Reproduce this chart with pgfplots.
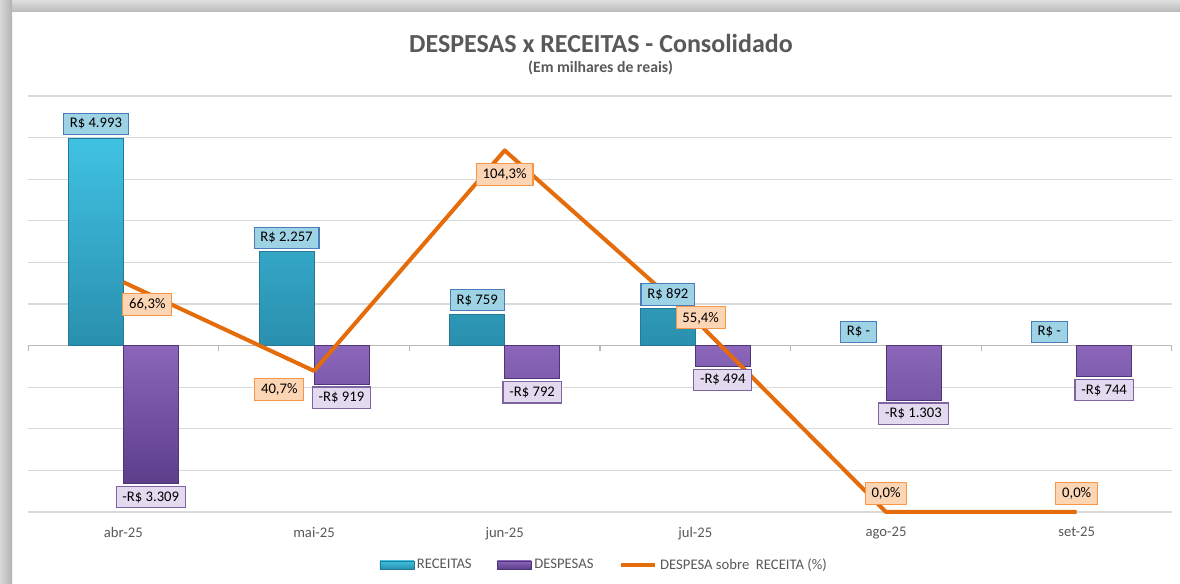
\documentclass[border=0pt]{standalone}
\usepackage{fontspec}
\setmainfont{Carlito}
\usepackage{pgfplots}
\pgfplotsset{compat=1.18}
\usepackage{pgfplotstable}

\definecolor{recTop}{HTML}{40C2E3}
\definecolor{recBot}{HTML}{2A8FAE}
\definecolor{desTop}{HTML}{8B66BA}
\definecolor{desBot}{HTML}{5C3E8B}
\definecolor{recBox}{HTML}{9DD3E4}
\definecolor{recEdge}{HTML}{4A7EBB}
\definecolor{desBox}{HTML}{E4DAF0}
\definecolor{desEdge}{HTML}{8064A2}
\definecolor{pctBox}{HTML}{FCD5B4}
\definecolor{pctEdge}{HTML}{F79646}
\definecolor{lineOr}{HTML}{E46C0A}
\definecolor{txtGray}{HTML}{595959}
\definecolor{gridGray}{HTML}{D9D9D9}

% values in thousands of reais
\pgfplotstableread{
x rec desp reclab desplab
0 4993 -3309 {R\$ 4.993} {-R\$ 3.309}
1 2257 -919 {R\$ 2.257} {-R\$ 919}
2 759 -792 {R\$ 759} {-R\$ 792}
3 892 -494 {R\$ 892} {-R\$ 494}
4 0 -1303 {R\$ -} {-R\$ 1.303}
5 0 -744 {R\$ -} {-R\$ 744}
}\bars

% despesa / receita, label offsets in pt
\pgfplotstableread{
x pct lab dx dy
0 66.3 {66,3\%} 18 -16.5
1 40.7 {40,7\%} -26 -14
2 104.3 {104,3\%} 0 -18
3 55.4 {55,4\%} 4 1.5
4 0 {0,0\%} 0 14
5 0 {0,0\%} 0 14
}\pct

\tikzset{
  lab/.style={font=\fontsize{11}{13}\selectfont, text=black,
    inner xsep=4.8pt, inner ysep=3.8pt, line width=0.8pt},
}
\pgfplotsset{
  base/.style={
    scale only axis, width=858pt, height=312pt,
    at={(21pt,54pt)}, anchor=south west,
    xmin=-0.5, xmax=5.5,
  },
}

\begin{document}
\begin{tikzpicture}
\useasboundingbox (0,0) rectangle (885pt,438pt);
\fill[white] (0,0) rectangle (885pt,438pt);
\shade[top color=gray!25, bottom color=gray!55] (0,429pt) rectangle (885pt,438pt);
\shade[left color=gray!30, right color=gray!60] (0,0) rectangle (9pt,438pt);

\node[font=\fontsize{19.5}{22}\selectfont\bfseries, text=txtGray] at (450.75pt,405.5pt) {DESPESAS x RECEITAS - Consolidado};
\node[font=\fontsize{11.8}{13}\selectfont\bfseries, text=txtGray] at (450.5pt,387pt) {(Em milhares de reais)};

% grid and bars
\begin{axis}[base,
  ymin=-4000, ymax=6000,
  ytick={-4000,-3000,...,6000}, yticklabels={},
  ymajorgrids, grid style={gridGray, line width=0.8pt},
  axis line style={draw=none}, major tick length=0pt,
  xtick={0,...,5},
  xticklabels={abr-25,mai-25,jun-25,jul-25,ago-25,set-25},
  xticklabel style={font=\fontsize{11}{13}\selectfont, text=txtGray, yshift=-8pt},
  bar width=0.288,
  unbounded coords=discard,
  legend columns=3,
  legend style={at={(0.504,-0.127)}, anchor=center, draw=none, fill=none,
    font=\fontsize{11}{13}\selectfont, text=txtGray,
    /tikz/every even column/.append style={column sep=17pt},
    /tikz/every odd column/.append style={inner xsep=1pt}},
]
\draw[gray!55, line width=0.9pt] (axis cs:-0.5,0) -- (axis cs:5.5,0);
\pgfplotsinvokeforeach{-0.5,0.5,...,5.5}{
  \draw[gray!55, line width=0.8pt] (axis cs:#1,0) -- ([yshift=-4pt]axis cs:#1,0);
}
\addplot[ybar, bar shift=-0.144, top color=recTop, bottom color=recBot,
  draw=recBot!85!black, line width=0.4pt, forget plot,
  y filter/.expression={y==0 ? nan : y}]
  table[x=x, y=rec] {\bars};
\addplot[ybar, bar shift=0.144, top color=desTop, bottom color=desBot,
  draw=desBot!85!black, line width=0.4pt, forget plot]
  table[x=x, y=desp] {\bars};
\addlegendimage{legend image code/.code={
  \shade[top color=recTop, bottom color=recBot, draw=recBot!85!black]
    (0pt,-3pt) rectangle (25.5pt,3pt);}}
\addlegendimage{legend image code/.code={
  \shade[top color=desTop, bottom color=desBot, draw=desBot!85!black]
    (0pt,-3pt) rectangle (25.5pt,3pt);}}
\addlegendimage{legend image code/.code={
  \draw[lineOr, line width=3pt] (0pt,0pt) -- (26pt,0pt);}}
\legend{RECEITAS, DESPESAS, DESPESA sobre\ \ RECEITA (\%)}
\end{axis}

% ratio line, secondary scale
\begin{axis}[base,
  ymin=0, ymax=120,
  hide axis, clip=false,
]
\addplot[lineOr, line width=3pt, line join=round,
  point meta=explicit symbolic, nodes near coords,
  visualization depends on={\thisrow{dx} \as \dx},
  visualization depends on={\thisrow{dy} \as \dy},
  nodes near coords style={lab, fill=pctBox, draw=pctEdge, anchor=center,
    xshift=\dx pt, yshift=\dy pt}]
  table[x=x, y=pct, meta=lab] {\pct};
\end{axis}

% value labels on top
\begin{axis}[base,
  ymin=-4000, ymax=6000,
  hide axis, clip=false,
]
\addplot[draw=none, mark=none,
  point meta=explicit symbolic, nodes near coords,
  nodes near coords style={lab, fill=recBox, draw=recEdge, anchor=south, yshift=2pt}]
  table[x expr=\thisrow{x}-0.144, y=rec, meta=reclab] {\bars};
\addplot[draw=none, mark=none,
  point meta=explicit symbolic, nodes near coords,
  nodes near coords style={lab, fill=desBox, draw=desEdge, anchor=north, yshift=-2pt}]
  table[x expr=\thisrow{x}+0.144, y=desp, meta=desplab] {\bars};
\end{axis}
\end{tikzpicture}
\end{document}
